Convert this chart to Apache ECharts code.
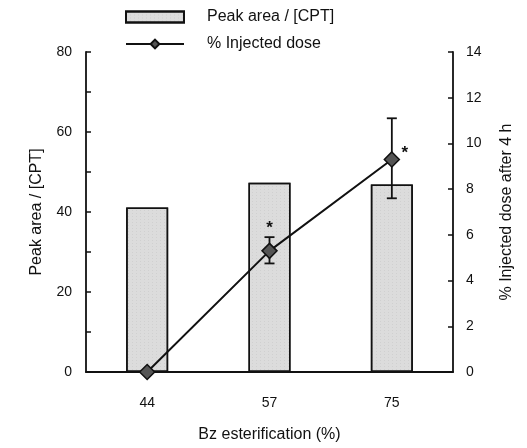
<!DOCTYPE html>
<html>
<head>
<meta charset="utf-8">
<script src="https://cdn.jsdelivr.net/npm/echarts@6/dist/echarts.min.js"></script>
<style>
  html, body { margin: 0; padding: 0; background: #fff; }
  #chart { width: 527px; height: 448px; }
</style>
</head>
<body>
<div id="chart"></div>
<script>
// data
const categories = ["44", "57", "75"];
const peakArea = [41.1, 47.3, 46.9];
const injectedDose = [0, 5.3, 9.3];
const doseErrLow = [0, 4.75, 7.6];
const doseErrHigh = [0, 5.9, 11.1];
const significance = ["", "*", "*"];

const FONT = "Liberation Sans";

const chart = echarts.init(document.getElementById("chart"));

// error bars + asterisks drawn on the right axis
const renderError = (params, api) => {
  const i = api.value(0);
  if (api.value(2) === api.value(1)) return null;
  const hi = api.coord([i, api.value(2)]);
  const lo = api.coord([i, api.value(1)]);
  const cap = 5;
  const style = { stroke: "#111", lineWidth: 1.8 };
  const kids = [
    { type: "line", shape: { x1: hi[0], y1: hi[1], x2: lo[0], y2: lo[1] }, style },
    { type: "line", shape: { x1: hi[0] - cap, y1: hi[1], x2: hi[0] + cap, y2: hi[1] }, style },
    { type: "line", shape: { x1: lo[0] - cap, y1: lo[1], x2: lo[0] + cap, y2: lo[1] }, style }
  ];
  const star = significance[i];
  if (star) {
    // first star sits above the cap, second one to the right of the marker
    const mid = api.coord([i, injectedDose[i]]);
    const pos = i === 1 ? [hi[0], hi[1] - 9] : [mid[0] + 13, mid[1] - 6];
    kids.push({
      type: "text",
      x: pos[0], y: pos[1],
      style: { text: star, fontSize: 17, fontWeight: "bold", fontFamily: FONT, fill: "#111", align: "center", verticalAlign: "middle" }
    });
  }
  return { type: "group", children: kids };
};

chart.setOption({
  animation: false,
  textStyle: { fontFamily: FONT, color: "#111" },
  grid: { left: 86, right: 74, top: 52, bottom: 73 },
  legend: {
    orient: "vertical",
    left: 125,
    top: 9,
    padding: 0,
    itemGap: 11,
    itemWidth: 58,
    itemHeight: 11,
    textStyle: { fontSize: 16, fontFamily: FONT, color: "#111", padding: [0, 0, 0, 18] },
    data: [
      { name: "Peak area / [CPT]", icon: "rect" },
      { name: "% Injected dose" }
    ]
  },
  xAxis: {
    type: "category",
    data: categories,
    name: "Bz esterification (%)",
    nameLocation: "middle",
    nameGap: 55,
    nameTextStyle: { fontSize: 16, color: "#111" },
    axisLine: { lineStyle: { color: "#111", width: 1.8 } },
    axisTick: { show: false },
    axisLabel: { fontSize: 14, color: "#111", margin: 24 }
  },
  yAxis: [
    {
      type: "value",
      min: 0,
      max: 80,
      interval: 10,
      name: "Peak area / [CPT]",
      nameLocation: "middle",
      nameGap: 41,
      nameTextStyle: { fontSize: 16, color: "#111" },
      axisLine: { show: true, lineStyle: { color: "#111", width: 1.8 } },
      axisTick: { show: true, inside: true, length: 5, lineStyle: { color: "#111", width: 1.5 } },
      axisLabel: {
        fontSize: 14, color: "#111", margin: 14,
        formatter: (v) => (v % 20 === 0 ? String(v) : "")
      },
      splitLine: { show: false }
    },
    {
      type: "value",
      min: 0,
      max: 14,
      interval: 2,
      position: "right",
      name: "% Injected dose after 4 h",
      nameLocation: "middle",
      nameGap: 46,
      nameRotate: 90,
      nameTextStyle: { fontSize: 16, color: "#111" },
      axisLine: { show: true, lineStyle: { color: "#111", width: 1.8 } },
      axisTick: { show: true, inside: true, length: 5, lineStyle: { color: "#111", width: 1.5 } },
      axisLabel: { fontSize: 14, color: "#111", margin: 13 },
      splitLine: { show: false }
    }
  ],
  series: [
    {
      name: "Peak area / [CPT]",
      type: "bar",
      barWidth: 42,
      itemStyle: {
        color: "#dcdcdc",
        borderColor: "#111",
        borderWidth: 1.5,
        decal: {
          symbol: "rect",
          symbolSize: 0.5,
          dashArrayX: [1, 3],
          dashArrayY: [1, 2],
          color: "rgba(90,90,90,0.35)"
        }
      },
      data: peakArea
    },
    {
      name: "% Injected dose",
      type: "line",
      yAxisIndex: 1,
      z: 5,
      symbol: "diamond",
      symbolSize: 15,
      lineStyle: { color: "#111", width: 2 },
      itemStyle: { color: "#555", borderColor: "#111", borderWidth: 1.5 },
      data: injectedDose
    },
    {
      name: "error",
      type: "custom",
      yAxisIndex: 1,
      z: 4,
      renderItem: renderError,
      data: categories.map((c, i) => [i, doseErrLow[i], doseErrHigh[i]])
    }
  ]
});
</script>
</body>
</html>
